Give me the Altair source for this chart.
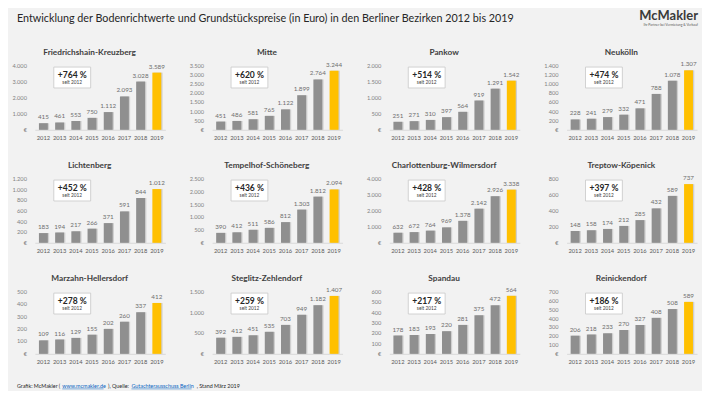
import altair as alt
import pandas as pd

FONT = "Lato"

main_title = "Entwicklung der Bodenrichtwerte und Grundstückspreise (in Euro) in den Berliner Bezirken 2012 bis 2019"

districts = [
    "Friedrichshain-Kreuzberg", "Mitte", "Pankow", "Neukölln",
    "Lichtenberg", "Tempelhof-Schöneberg", "Charlottenburg-Wilmersdorf", "Treptow-Köpenick",
    "Marzahn-Hellersdorf", "Steglitz-Zehlendorf", "Spandau", "Reinickendorf",
]
years = ["2012", "2013", "2014", "2015", "2016", "2017", "2018", "2019"]

v_friedrichshain = [415, 461, 553, 750, 1112, 2093, 3028, 3589]
v_mitte = [451, 486, 581, 765, 1122, 1899, 2764, 3244]
v_pankow = [251, 271, 310, 397, 564, 919, 1291, 1542]
v_neukoelln = [228, 241, 279, 332, 471, 788, 1078, 1307]
v_lichtenberg = [183, 194, 217, 266, 371, 591, 844, 1012]
v_tempelhof = [390, 412, 511, 586, 812, 1303, 1812, 2094]
v_charlottenburg = [632, 672, 764, 969, 1378, 2142, 2926, 3338]
v_treptow = [148, 158, 174, 212, 285, 432, 589, 737]
v_marzahn = [109, 116, 129, 155, 202, 260, 337, 412]
v_steglitz = [392, 412, 451, 535, 703, 949, 1182, 1407]
v_spandau = [178, 183, 193, 220, 281, 375, 472, 564]
v_reinickendorf = [206, 218, 233, 270, 327, 408, 508, 589]

values = [v_friedrichshain, v_mitte, v_pankow, v_neukoelln,
          v_lichtenberg, v_tempelhof, v_charlottenburg, v_treptow,
          v_marzahn, v_steglitz, v_spandau, v_reinickendorf]

growth = ["+764 %", "+620 %", "+514 %", "+474 %",
          "+452 %", "+436 %", "+428 %", "+397 %",
          "+278 %", "+259 %", "+217 %", "+186 %"]
since = "seit 2012"

axis_max = [4000, 3500, 2000, 1400, 1200, 2500, 4000, 800, 500, 1500, 600, 700]
axis_step = [1000, 500, 500, 200, 200, 500, 1000, 200, 100, 500, 100, 100]
zero_label = "€"

footer_parts = ["Grafik: McMakler (", "www.mcmakler.de", "), Quelle: ",
                "Gutachterausschuss Berlin", ", Stand März 2019"]
footer_links = [False, True, False, True, False]
logo = "McMakler"
tagline = "Ihr Partner bei Vermietung & Verkauf"

GRAY = "#8f8f8f"
SHADOW = "#cfcfcf"
GOLD = "#ffc000"
TXT = "#595959"
LIGHT = "#7f7f7f"

W = 131            # plot width of one panel
HSP = 47           # horizontal gap between plot areas
VSP = 49.5         # vertical gap between plot areas
X0, Y0 = 34, 66    # page position of the first plot area
PITCH_X = W + HSP
ROW_TOP = [66, 179.5, 293]


def de_num(v):
    return f"{v:,}".replace(",", ".")


def text_layer(txt, px, py, **kw):
    return alt.Chart(pd.DataFrame({"t": [txt]})).mark_text(font=FONT, **kw).encode(
        x=alt.value(px), y=alt.value(py), text="t:N")


def panel(i, h, extra):
    df = pd.DataFrame({"Jahr": years, "Wert": values[i]})
    df["Label"] = [de_num(v) for v in values[i]]
    df["Farbe"] = ["grau"] * 7 + ["gelb"]
    tick_vals = list(range(0, axis_max[i] + 1, axis_step[i]))
    tdf = pd.DataFrame({"Wert": tick_vals,
                        "Label": [zero_label if t == 0 else de_num(t) for t in tick_vals]})

    x = alt.X("Jahr:N", sort=years,
              scale=alt.Scale(paddingInner=0.45, paddingOuter=0.25),
              axis=alt.Axis(title=None, labelAngle=0, ticks=False, domainColor="#d9d9d9",
                            labelFontSize=5.8, labelColor=TXT, labelPadding=5,
                            labelFont=FONT, labelOverlap=False))
    y = alt.Y("Wert:Q", scale=alt.Scale(domain=[0, axis_max[i]], nice=False), axis=None)
    base = alt.Chart(df)
    shadow = base.mark_bar(color=SHADOW, xOffset=1.3).encode(x=x, y=y)
    bars = base.mark_bar().encode(
        x=alt.X("Jahr:N", sort=years), y="Wert:Q",
        color=alt.Color("Farbe:N", scale=alt.Scale(domain=["grau", "gelb"], range=[GRAY, GOLD]), legend=None),
    )
    labels = base.mark_text(baseline="bottom", dy=-3, fontSize=6.3, color="#6e6e6e", font=FONT).encode(
        x=alt.X("Jahr:N", sort=years), y="Wert:Q", text="Label:N")
    ylabels = alt.Chart(tdf).mark_text(align="right", baseline="middle", fontSize=5.7,
                                        color=LIGHT, font=FONT).encode(
        x=alt.value(-8), y="Wert:Q", text="Label:N")

    ann = alt.Chart(pd.DataFrame({"g": [growth[i]], "s": [since]}))
    box = ann.mark_rect(fill="white", stroke="#c8c8c8", strokeWidth=0.8).encode(
        x=alt.value(19), x2=alt.value(56), y=alt.value(1), y2=alt.value(22))
    t1 = ann.mark_text(fontSize=8.6, fontWeight="bold", color="#262626", font=FONT).encode(
        x=alt.value(37.5), y=alt.value(8.5), text="g:N")
    t2 = ann.mark_text(fontSize=4.8, color="#404040", font=FONT).encode(
        x=alt.value(37.5), y=alt.value(16.8), text="s:N")
    title = text_layer(districts[i], W / 2 - 10.5, -13.5, align="center", baseline="middle",
                       fontSize=8.3, fontWeight="bold", color="#404040")

    return alt.layer(shadow, bars, labels, ylabels, box, t1, t2, title, *extra).properties(width=W, height=h)


# header lives in the first / fourth panel, footer in the ninth (positions relative to plot origin)
extras = {i: [] for i in range(12)}
extras[0].append(text_layer(main_title, 16 - X0, 19 - Y0, align="left", baseline="middle",
                            fontSize=10.8, color="#262626"))
ox4 = X0 + 3 * PITCH_X
extras[3].append(text_layer(logo, 700 - ox4, 15.5 - Y0, align="right", baseline="middle",
                            fontSize=13, fontWeight="bold", color="#3a3a3a"))
extras[3].append(text_layer(tagline, 700 - ox4, 24.5 - Y0, align="right", baseline="middle",
                            fontSize=3.4, color="#595959"))

footer_x = [16, 61.5, 107.5, 131, 196.5]
footer_w = [44.3, 44.5, 22.6, 63.4, 44.3]
fy = 387 - ROW_TOP[2]
for k, part in enumerate(footer_parts):
    col = "#0563c1" if footer_links[k] else "#262626"
    extras[8].append(text_layer(part, footer_x[k] - X0, fy, align="left", baseline="middle",
                                fontSize=5.4, color=col))
    if footer_links[k]:
        extras[8].append(alt.Chart(pd.DataFrame({"t": [part]})).mark_rule(color=col, strokeWidth=0.5).encode(
            x=alt.value(footer_x[k] - X0), x2=alt.value(footer_x[k] + footer_w[k] - X0 - 3),
            y=alt.value(fy + 3.2)))

panels = [panel(i, 64 if i < 8 else 62, extras[i]) for i in range(12)]

chart = alt.concat(*panels, columns=4, spacing=alt.RowColnumber(row=VSP, column=HSP), bounds="flush").properties(
    padding={"left": 4, "top": 0.5, "right": 4, "bottom": 0}, background="#f2f2f2"
).configure(font=FONT).configure_view(strokeWidth=0)

chart.save("out.html", embed_options={"renderer": "svg", "actions": False})
